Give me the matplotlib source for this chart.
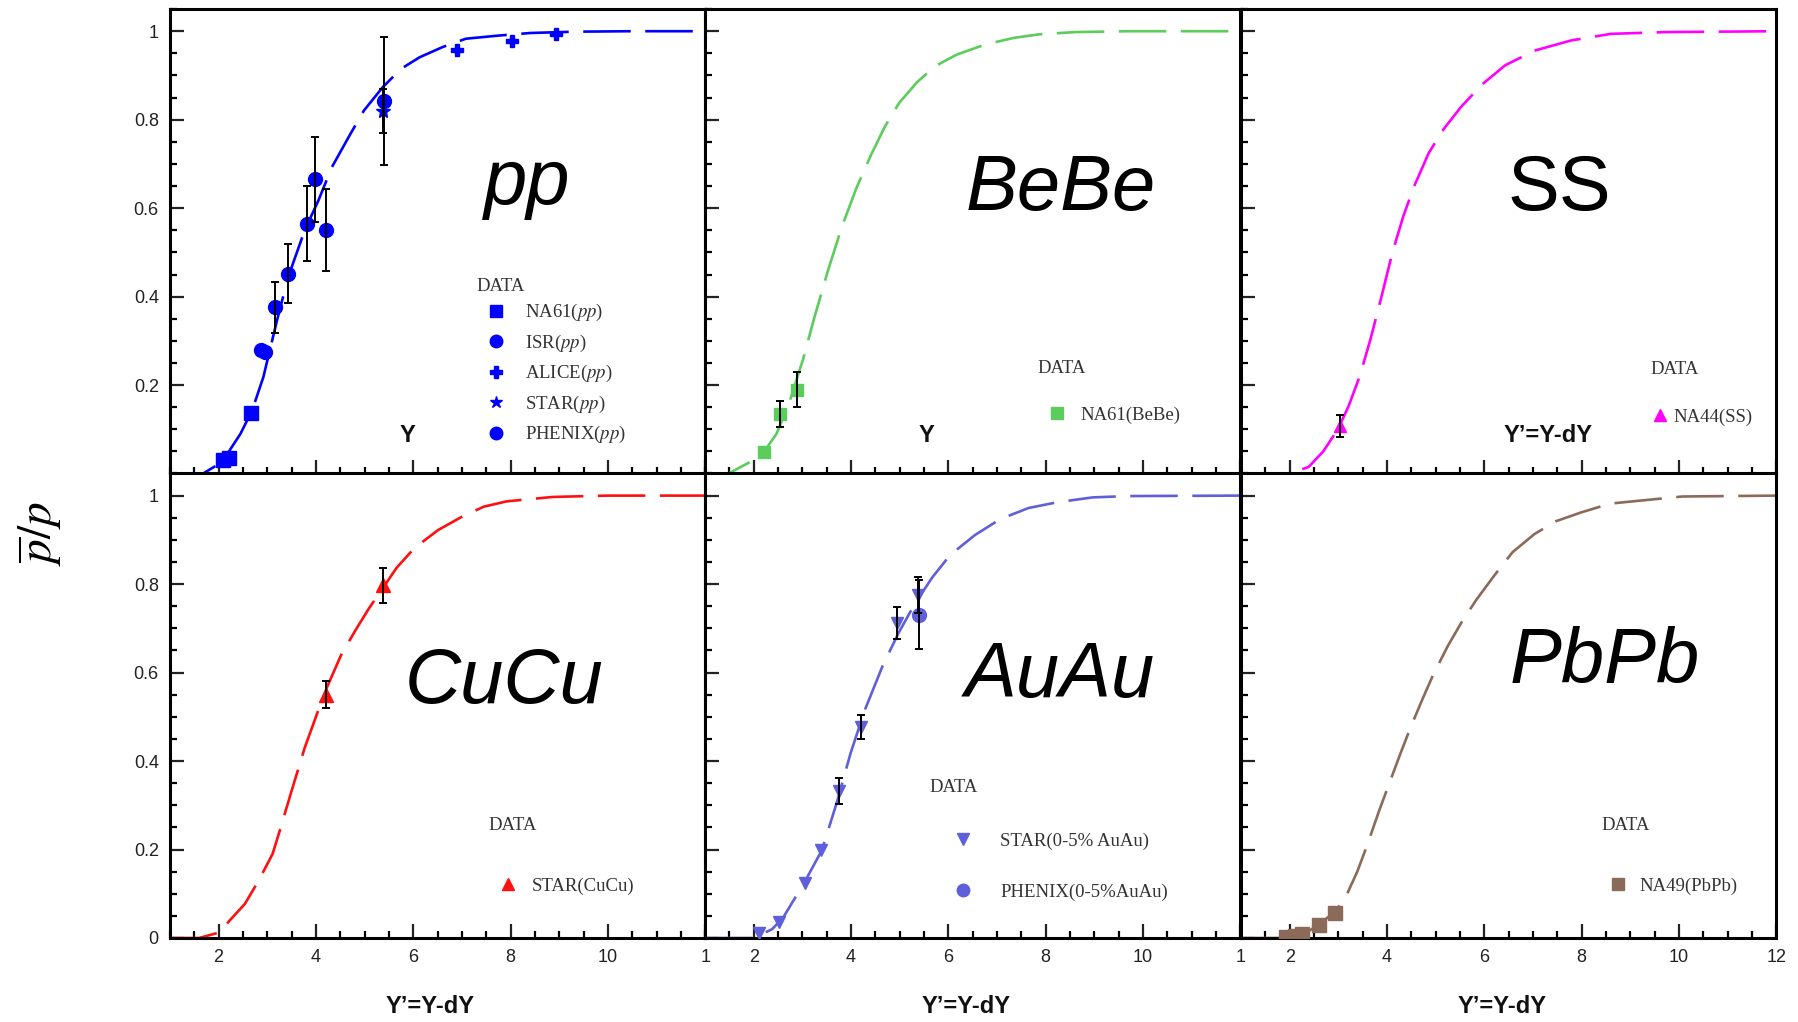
#!/usr/bin/env python3
"""Cociente pbar/p frente a la rapidez para seis sistemas de colision."""

import matplotlib.pyplot as plt
from matplotlib.lines import Line2D
from matplotlib.ticker import FixedLocator, FixedFormatter, MultipleLocator

plt.rcParams["font.family"] = ["Liberation Sans", "DejaVu Sans"]
plt.rcParams["mathtext.fontset"] = "stix"

# ---- curvas del modelo ----
PP_CURVE_X = [1.0, 1.68, 2.07, 2.45, 2.69, 2.92, 3.2, 3.43, 3.77, 4.05, 4.33, 4.71,
              4.99, 5.37, 5.75, 6.13, 6.6, 7.08, 7.74, 8.41, 9.35, 10.5, 12.0]
PP_CURVE_Y = [0.0, 0.0, 0.026, 0.09, 0.143, 0.218, 0.346, 0.444, 0.55, 0.617, 0.693, 0.768,
              0.821, 0.873, 0.915, 0.941, 0.964, 0.983, 0.99, 0.996, 0.999, 1.0, 1.0]

BEBE_CURVE_X = [1.0, 1.48, 1.99, 2.21, 2.47, 2.73, 3.02, 3.24, 3.53, 3.82, 4.11, 4.41,
                4.7, 4.99, 5.36, 5.73, 6.17, 6.76, 7.35, 7.87, 8.6, 9.7, 12.0]
BEBE_CURVE_Y = [0.0, 0.0, 0.03, 0.049, 0.09, 0.16, 0.26, 0.35, 0.46, 0.56, 0.645, 0.72,
                0.785, 0.838, 0.885, 0.921, 0.947, 0.97, 0.985, 0.993, 0.998, 1.0, 1.0]

SS_CURVE_X = [1.0, 2.0, 2.39, 2.69, 2.99, 3.21, 3.44, 3.66, 3.89, 4.11, 4.34, 4.56,
              4.86, 5.16, 5.53, 5.98, 6.43, 7.03, 7.78, 8.6, 9.72, 12.0]
SS_CURVE_Y = [0.0, 0.0, 0.015, 0.05, 0.10, 0.152, 0.22, 0.303, 0.401, 0.499, 0.583, 0.65,
              0.725, 0.778, 0.83, 0.882, 0.923, 0.956, 0.979, 0.994, 0.998, 1.0]

CUCU_CURVE_X = [1.0, 1.6, 2.0, 2.54, 2.82, 3.11, 3.25, 3.48, 3.77, 4.05, 4.24, 4.52,
                4.81, 5.09, 5.37, 5.66, 6.03, 6.51, 6.98, 7.45, 7.92, 8.87, 10.0, 12.0]
CUCU_CURVE_Y = [0.0, 0.0, 0.012, 0.077, 0.129, 0.19, 0.24, 0.325, 0.43, 0.515, 0.57, 0.64,
                0.695, 0.745, 0.79, 0.837, 0.882, 0.922, 0.951, 0.975, 0.987, 0.997, 1.0, 1.0]

AUAU_CURVE_X = [1.0, 2.0, 2.38, 2.6, 3.04, 3.4, 3.7, 3.99, 4.28, 4.65, 4.98, 5.31,
                5.67, 6.04, 6.55, 7.07, 7.65, 8.24, 8.97, 9.7, 12.0]
AUAU_CURVE_Y = [0.0, 0.0, 0.02, 0.045, 0.125, 0.198, 0.303, 0.417, 0.514, 0.615, 0.69, 0.755,
                0.815, 0.866, 0.911, 0.947, 0.972, 0.985, 0.996, 0.999, 1.0]

PBPB_CURVE_X = [1.0, 1.9, 2.28, 2.57, 2.95, 3.17, 3.39, 3.61, 3.84, 4.06, 4.28, 4.5,
                4.73, 4.95, 5.25, 5.54, 5.84, 6.21, 6.58, 7.03, 7.47, 7.99, 8.59, 9.33,
                10.07, 12.0]
PBPB_CURVE_Y = [0.0, 0.0, 0.008, 0.028, 0.061, 0.097, 0.15, 0.215, 0.288, 0.353, 0.418, 0.48,
                0.54, 0.595, 0.66, 0.715, 0.765, 0.82, 0.872, 0.913, 0.942, 0.962, 0.982, 0.99,
                0.998, 1.0]

# ---- datos experimentales ----
NA61_PP_X = [2.1, 2.22, 2.66]
NA61_PP_Y = [0.03, 0.035, 0.136]
NA61_PP_ERR = [0.0, 0.0, 0.0]
ISR_PP_X = [2.88, 2.96, 3.15, 3.43, 3.81, 3.98, 4.21]
ISR_PP_Y = [0.28, 0.275, 0.376, 0.452, 0.565, 0.665, 0.55]
ISR_PP_ERR = [0.0, 0.0, 0.058, 0.066, 0.085, 0.097, 0.093]
ALICE_PP_X = [6.89, 8.02, 8.94]
ALICE_PP_Y = [0.957, 0.977, 0.993]
ALICE_PP_ERR = [0.0, 0.0, 0.0]
STAR_PP_X = [5.37]
STAR_PP_Y = [0.82]
STAR_PP_ERR = [0.05]
PHENIX_PP_X = [5.39]
PHENIX_PP_Y = [0.843]
PHENIX_PP_ERR = [0.145]

NA61_BEBE_X = [2.21, 2.54, 2.89]
NA61_BEBE_Y = [0.049, 0.135, 0.19]
NA61_BEBE_ERR = [0.0, 0.03, 0.04]

NA44_SS_X = [3.03]
NA44_SS_Y = [0.108]
NA44_SS_ERR = [0.025]

STAR_CUCU_X = [4.21, 5.37]
STAR_CUCU_Y = [0.55, 0.797]
STAR_CUCU_ERR = [0.03, 0.04]

STAR_AUAU_X = [2.12, 2.52, 3.05, 3.38, 3.75, 4.21, 4.94, 5.37]
STAR_AUAU_Y = [0.011, 0.036, 0.125, 0.198, 0.332, 0.477, 0.712, 0.775]
STAR_AUAU_ERR = [0.0, 0.0, 0.0, 0.0, 0.03, 0.027, 0.036, 0.04]
PHENIX_AUAU_X = [5.4]
PHENIX_AUAU_Y = [0.731]
PHENIX_AUAU_ERR = [0.078]

NA49_PBPB_X = [1.92, 2.1, 2.25, 2.6, 2.93]
NA49_PBPB_Y = [0.002, 0.005, 0.008, 0.03, 0.057]
NA49_PBPB_ERR = [0.0, 0.0, 0.0, 0.0, 0.0]

# ---- ejes ----
X_MAJOR = [2, 4, 6, 8, 10, 12]
X_LABELS_CUT = ["2", "4", "6", "8", "10", "1"]
X_LABELS_FULL = ["2", "4", "6", "8", "10", "12"]
Y_MAJOR = [0, 0.2, 0.4, 0.6, 0.8, 1.0]
Y_LABELS = ["0", "0.2", "0.4", "0.6", "0.8", "1"]
Y_LABELS_TOP = ["", "0.2", "0.4", "0.6", "0.8", "1"]

C_PP = "#0000ff"
C_BEBE = "#5ccc5c"
C_SS = "#ff00ff"
C_CUCU = "#ff1010"
C_AUAU = "#5f5fdc"
C_PBPB = "#8c6a5a"

SERIF = ["Liberation Serif", "DejaVu Serif"]
LEG_SIZE = 13.5


def style_axes(ax, xlabels=None, ylabels=None):
    ax.set_xlim(1, 12)
    ax.set_ylim(0, 1.05)
    for sp in ax.spines.values():
        sp.set_linewidth(2.2)
    ax.xaxis.set_major_locator(FixedLocator(X_MAJOR))
    ax.xaxis.set_minor_locator(MultipleLocator(0.5))
    ax.yaxis.set_major_locator(FixedLocator(Y_MAJOR))
    ax.yaxis.set_minor_locator(MultipleLocator(0.05))
    ax.tick_params(which="both", direction="in", top=False, right=False, width=1.6)
    ax.tick_params(which="major", length=10)
    ax.tick_params(which="minor", length=5)
    ax.tick_params(labelsize=13, pad=8, colors="#222222")
    if xlabels is None:
        ax.set_xticklabels([])
    else:
        ax.xaxis.set_major_formatter(FixedFormatter(xlabels))
    if ylabels is None:
        ax.set_yticklabels([])
    else:
        ax.yaxis.set_major_formatter(FixedFormatter(ylabels))


def curve(ax, x, y, color):
    ax.plot(x, y, color=color, lw=1.9, linestyle=(0, (18, 5.5)), zorder=2)


def points(ax, x, y, err, color, marker, size):
    ax.plot(x, y, linestyle="none", marker=marker, color=color, markersize=size, zorder=3)
    # solo se dibujan barras de error para los puntos que tienen error visible
    sel = [i for i, e in enumerate(err) if e > 0]
    if sel:
        ax.errorbar([x[i] for i in sel], [y[i] for i in sel], yerr=[err[i] for i in sel],
                    fmt="none", ecolor="black", elinewidth=1.4, capsize=3, capthick=1.4,
                    zorder=4)


def data_legend(ax, entries, head_xy, anchor, textpad, spacing=0.5):
    ax.text(head_xy[0], head_xy[1], "DATA", transform=ax.transAxes, ha="left",
            va="center", family=SERIF, fontsize=LEG_SIZE, color="#333333")
    handles = [Line2D([], [], linestyle="none", marker=m, color=c, markersize=s, label=lab)
               for lab, m, c, s in entries]
    leg = ax.legend(handles=handles, loc="center left", bbox_to_anchor=anchor,
                    frameon=False, borderpad=0, borderaxespad=0, handlelength=1.0,
                    handletextpad=textpad, labelspacing=spacing,
                    prop={"family": SERIF, "size": LEG_SIZE})
    for t in leg.get_texts():
        t.set_color("#333333")


def big_label(ax, text, xy, style="italic"):
    ax.text(xy[0], xy[1], text, transform=ax.transAxes, ha="center", va="center",
            fontsize=56, style=style, color="black")


def axis_title(ax, text, xy):
    ax.text(xy[0], xy[1], text, transform=ax.transAxes, ha="center", va="center",
            fontsize=17, fontweight="bold", color="#111111")


def main():
    fig = plt.figure(figsize=(17.98, 10.22), dpi=100)
    lefts = [0.0945, 0.3921, 0.6902]
    width = 0.2977
    height = 0.4545
    bottoms = [0.5366, 0.0822]
    axs = [[fig.add_axes([l, b, width, height]) for l in lefts] for b in bottoms]

    # pp
    ax = axs[0][0]
    style_axes(ax, ylabels=Y_LABELS_TOP)
    curve(ax, PP_CURVE_X, PP_CURVE_Y, C_PP)
    points(ax, NA61_PP_X, NA61_PP_Y, NA61_PP_ERR, C_PP, "s", 10)
    points(ax, ISR_PP_X, ISR_PP_Y, ISR_PP_ERR, C_PP, "o", 10)
    points(ax, ALICE_PP_X, ALICE_PP_Y, ALICE_PP_ERR, C_PP, "P", 9)
    points(ax, STAR_PP_X, STAR_PP_Y, STAR_PP_ERR, C_PP, "*", 10)
    points(ax, PHENIX_PP_X, PHENIX_PP_Y, PHENIX_PP_ERR, C_PP, "o", 10)
    big_label(ax, "pp", (0.668, 0.625))
    axis_title(ax, "Y", (0.443, 0.081))
    data_legend(ax, [("NA61($pp$)", "s", C_PP, 9), ("ISR($pp$)", "o", C_PP, 9),
                     ("ALICE($pp$)", "P", C_PP, 9), ("STAR($pp$)", "*", C_PP, 9),
                     ("PHENIX($pp$)", "o", C_PP, 9)],
                (0.572, 0.402), (0.5925, 0.215), 1.04, 0.5)

    # BeBe
    ax = axs[0][1]
    style_axes(ax)
    curve(ax, BEBE_CURVE_X, BEBE_CURVE_Y, C_BEBE)
    points(ax, NA61_BEBE_X, NA61_BEBE_Y, NA61_BEBE_ERR, C_BEBE, "s", 9)
    big_label(ax, "BeBe", (0.664, 0.612))
    axis_title(ax, "Y", (0.413, 0.081))
    data_legend(ax, [("NA61(BeBe)", "s", C_BEBE, 8)], (0.621, 0.227), (0.64, 0.126), 0.73)

    # SS
    ax = axs[0][2]
    style_axes(ax)
    curve(ax, SS_CURVE_X, SS_CURVE_Y, C_SS)
    points(ax, NA44_SS_X, NA44_SS_Y, NA44_SS_ERR, C_SS, "^", 9)
    big_label(ax, "SS", (0.594, 0.612), style="normal")
    axis_title(ax, "Y’=Y-dY", (0.573, 0.081))
    data_legend(ax, [("NA44(SS)", "^", C_SS, 8)], (0.765, 0.225), (0.765, 0.121), 0.23)

    # CuCu
    ax = axs[1][0]
    style_axes(ax, xlabels=X_LABELS_CUT, ylabels=Y_LABELS)
    curve(ax, CUCU_CURVE_X, CUCU_CURVE_Y, C_CUCU)
    points(ax, STAR_CUCU_X, STAR_CUCU_Y, STAR_CUCU_ERR, C_CUCU, "^", 10)
    big_label(ax, "CuCu", (0.625, 0.551))
    axis_title(ax, "Y’=Y-dY", (0.487, -0.148))
    data_legend(ax, [("STAR(CuCu)", "^", C_CUCU, 8)], (0.595, 0.242), (0.615, 0.111), 0.73)

    # AuAu
    ax = axs[1][1]
    style_axes(ax, xlabels=X_LABELS_CUT)
    curve(ax, AUAU_CURVE_X, AUAU_CURVE_Y, C_AUAU)
    points(ax, STAR_AUAU_X, STAR_AUAU_Y, STAR_AUAU_ERR, C_AUAU, "v", 9)
    points(ax, PHENIX_AUAU_X, PHENIX_AUAU_Y, PHENIX_AUAU_ERR, C_AUAU, "o", 10)
    big_label(ax, "AuAu", (0.664, 0.563))
    axis_title(ax, "Y’=Y-dY", (0.487, -0.148))
    data_legend(ax, [("STAR(0-5% AuAu)", "v", C_AUAU, 8),
                     ("PHENIX(0-5%AuAu)", "o", C_AUAU, 9)],
                (0.42, 0.323), (0.465, 0.154), 1.46, 1.8)

    # PbPb
    ax = axs[1][2]
    style_axes(ax, xlabels=X_LABELS_FULL)
    curve(ax, PBPB_CURVE_X, PBPB_CURVE_Y, C_PBPB)
    points(ax, NA49_PBPB_X, NA49_PBPB_Y, NA49_PBPB_ERR, C_PBPB, "s", 10)
    big_label(ax, "PbPb", (0.679, 0.593))
    axis_title(ax, "Y’=Y-dY", (0.487, -0.148))
    data_legend(ax, [("NA49(PbPb)", "s", C_PBPB, 9)], (0.673, 0.242), (0.686, 0.111), 0.66)

    fig.text(0.023, 0.478, r"$\overline{p}/p$", rotation=90, ha="center", va="center",
             fontsize=34)

    fig.savefig("out.png", dpi=100, facecolor="white")
    plt.close(fig)


if __name__ == "__main__":
    main()
